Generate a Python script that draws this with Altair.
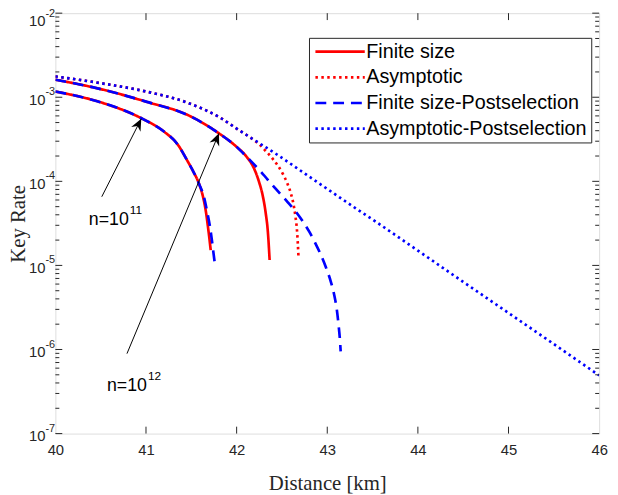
import altair as alt
import pandas as pd

# ---------------- data ----------------
# Finite size, n = 1e12
fs12_x = [40.0, 40.5, 41.0, 41.48, 41.805, 42.0, 42.11, 42.19, 42.244, 42.288, 42.32, 42.345, 42.364]
fs12_y = [1.62e-3, 1.25e-3, 8.87e-4, 6.01e-4, 3.72e-4, 2.57e-4, 1.96e-4, 1.44e-4, 1.01e-4, 6.75e-5, 4.26e-5, 2.48e-5, 1.16e-5]
# Finite size, n = 1e11
fs11_x = [40.0, 40.5, 40.95, 41.198, 41.351, 41.46, 41.525, 41.587, 41.629, 41.659, 41.683, 41.699, 41.714]
fs11_y = [1.17e-3, 8.71e-4, 5.62e-4, 3.91e-4, 2.73e-4, 1.73e-4, 1.29e-4, 9.25e-5, 6.56e-5, 4.50e-5, 2.92e-5, 2.11e-5, 1.52e-5]
# Asymptotic
as_x = [40.0, 40.5, 41.0, 41.48, 41.82, 42.0, 42.186, 42.244, 42.309, 42.404, 42.513, 42.56, 42.598, 42.627, 42.65, 42.666, 42.675, 42.682]
as_y = [1.77e-3, 1.47e-3, 1.17e-3, 8.44e-4, 5.70e-4, 4.24e-4, 3.12e-4, 2.79e-4, 2.37e-4, 1.82e-4, 1.21e-4, 9.44e-5, 7.21e-5, 5.36e-5, 3.75e-5, 2.62e-5, 1.84e-5, 1.30e-5]
# Finite size-Postselection, n = 1e12
fp12_x = [40.0, 40.5, 41.0, 41.48, 41.805, 42.0, 42.11, 42.19, 42.258, 42.342, 42.44, 42.549, 42.658, 42.734, 42.803, 42.865, 42.93, 42.985, 43.039, 43.078, 43.105, 43.126, 43.139, 43.148]
fp12_y = [1.62e-3, 1.25e-3, 8.87e-4, 6.01e-4, 3.72e-4, 2.57e-4, 1.96e-4, 1.60e-4, 1.34e-4, 1.05e-4, 7.96e-5, 5.89e-5, 4.29e-5, 3.29e-5, 2.50e-5, 1.87e-5, 1.33e-5, 9.50e-6, 6.43e-6, 4.40e-6, 3.01e-6, 1.90e-6, 1.34e-6, 9.51e-7]
# Finite size-Postselection, n = 1e11
fp11_x = [40.0, 40.5, 40.95, 41.198, 41.351, 41.46, 41.525, 41.587, 41.639, 41.672, 41.705, 41.727, 41.743, 41.759]
fp11_y = [1.17e-3, 8.71e-4, 5.62e-4, 3.91e-4, 2.73e-4, 1.73e-4, 1.29e-4, 9.25e-5, 6.56e-5, 4.50e-5, 2.92e-5, 2.00e-5, 1.45e-5, 1.06e-5]
# Asymptotic-Postselection
ap_x = [40.0, 40.5, 41.0, 41.48, 41.82, 42.0, 42.22, 42.44, 42.77, 43.31, 43.53, 44.0, 44.5, 45.0, 45.5, 46.0]
ap_y = [1.77e-3, 1.47e-3, 1.17e-3, 8.44e-4, 5.70e-4, 4.24e-4, 2.98e-4, 2.10e-4, 1.20e-4, 4.81e-5, 3.34e-5, 1.50e-5, 6.37e-6, 2.72e-6, 1.16e-6, 4.92e-7]

series_order = ["Finite size", "Asymptotic", "Finite size-Postselection", "Asymptotic-Postselection"]

# annotations
ann_tail_x = [40.512, 40.79]
ann_tail_y = [6.56e-5, 8.93e-7]
ann_tip_x = [40.948, 41.805]
ann_tip_y = [5.55e-4, 3.72e-4]
ann_label_x = [40.81, 41.01]
ann_label_y = [3.43e-5, 3.66e-7]
ann_base = ["n=10", "n=10"]
ann_exp = ["11", "12"]

x_ticks = [40, 41, 42, 43, 44, 45, 46]
y_decades = [1e-7, 1e-6, 1e-5, 1e-4, 1e-3, 1e-2]
y_exp = ["-7", "-6", "-5", "-4", "-3", "-2"]

# ---------------- styling ----------------
W, H = 551, 426
INK = "#262626"
series_colors = ["#FF0000", "#FF0000", "#0000FF", "#0000FF"]
series_dash = [[1, 0], [2.5, 3.5], [11, 7], [2.5, 3.5]]
LW = 2.7

rows = []
for s, c, xs_, ys_ in [
    ("Finite size", "fs12", fs12_x, fs12_y),
    ("Finite size", "fs11", fs11_x, fs11_y),
    ("Asymptotic", "as", as_x, as_y),
    ("Finite size-Postselection", "fp12", fp12_x, fp12_y),
    ("Finite size-Postselection", "fp11", fp11_x, fp11_y),
    ("Asymptotic-Postselection", "ap", ap_x, ap_y),
]:
    for a, b in zip(xs_, ys_):
        rows.append({"series": s, "curve": c, "x": a, "y": b})
df = pd.DataFrame(rows)

xscale = alt.Scale(domain=[40, 46], nice=False, zero=False)
yscale = alt.Scale(type="log", domain=[1e-7, 1e-2], nice=False)

xaxis = alt.Axis(title="Distance [km]", values=x_ticks, format="d", ticks=False, domain=False,
                 grid=False, labelFont="Liberation Sans", labelFontSize=15, labelColor=INK,
                 labelPadding=9, labelFlush=False, titleFont="Liberation Serif", titleFontSize=21,
                 titleFontWeight="normal", titleColor=INK, titlePadding=16)
yaxis = alt.Axis(title="Key Rate", labels=False, ticks=False, domain=False, grid=False,
                 titleFont="Liberation Serif", titleFontSize=21, titleFontWeight="normal",
                 titleColor=INK, titlePadding=27)

# legend line symbol: a 50px horizontal stroke
legend_line = "M-3,0 L17,0"
legend = alt.Legend(title=None, orient="none", legendX=257, legendY=25, symbolType=legend_line,
                    symbolSize=25, symbolStrokeWidth=LW, labelFont="Liberation Sans",
                    labelFontSize=20, labelColor="#000000", labelOffset=34, rowPadding=6,
                    padding=4, strokeColor=INK, fillColor="white", cornerRadius=0,
                    labelLimit=400)

color_enc = alt.Color("series:N", scale=alt.Scale(domain=series_order, range=series_colors), legend=legend)
dash_enc = alt.StrokeDash("series:N", scale=alt.Scale(domain=series_order, range=series_dash), legend=legend)

base = alt.Chart(df)
layers = []
for s in series_order:
    layers.append(
        base.transform_filter(alt.datum.series == s)
        .mark_line(strokeWidth=LW, interpolate="monotone", clip=True)
        .encode(
            x=alt.X("x:Q", scale=xscale, axis=xaxis),
            y=alt.Y("y:Q", scale=yscale, axis=yaxis),
            color=color_enc,
            strokeDash=dash_enc,
            detail="curve:N",
        )
    )

# tick marks (inside, MATLAB style)
minor_vals = [k * d for d in y_decades[:-1] for k in range(2, 10)]
ymaj = alt.Chart(pd.DataFrame({"v": y_decades}))
ymin = alt.Chart(pd.DataFrame({"v": minor_vals}))
xt = alt.Chart(pd.DataFrame({"v": x_ticks[1:-1]}))
ty = alt.Y("v:Q", scale=yscale, axis=yaxis)
tx = alt.X("v:Q", scale=xscale, axis=xaxis)
tick_layers = [
    ymaj.mark_rule(color=INK, strokeWidth=1).encode(x=alt.value(0), x2=alt.value(7), y=ty),
    ymaj.mark_rule(color=INK, strokeWidth=1).encode(x=alt.value(W - 7), x2=alt.value(W), y=ty),
    ymin.mark_rule(color=INK, strokeWidth=1).encode(x=alt.value(0), x2=alt.value(4), y=ty),
    ymin.mark_rule(color=INK, strokeWidth=1).encode(x=alt.value(W - 4), x2=alt.value(W), y=ty),
    xt.mark_rule(color=INK, strokeWidth=1).encode(y=alt.value(H), y2=alt.value(H - 7), x=tx),
    xt.mark_rule(color=INK, strokeWidth=1).encode(y=alt.value(0), y2=alt.value(7), x=tx),
]

# y tick labels 10^n (top label nudged down so it stays inside the page)
ylab_df = pd.DataFrame({"v": y_decades, "b": ["10"] * len(y_decades), "e": y_exp})
ylab_lo = alt.Chart(ylab_df).transform_filter(alt.datum.v < 5e-3)
ylab_hi = alt.Chart(ylab_df).transform_filter(alt.datum.v > 5e-3)
ylabel_layers = [
    ylab_lo.mark_text(align="right", baseline="middle", font="Liberation Sans", fontSize=15,
                      color=INK, dy=3).encode(x=alt.value(-10), y=ty, text="b:N"),
    ylab_lo.mark_text(align="left", baseline="middle", font="Liberation Sans", fontSize=11,
                      color=INK, dy=-5).encode(x=alt.value(-10), y=ty, text="e:N"),
    ylab_hi.mark_text(align="right", baseline="middle", font="Liberation Sans", fontSize=15,
                      color=INK, dy=8).encode(x=alt.value(-10), y=ty, text="b:N"),
    ylab_hi.mark_text(align="left", baseline="middle", font="Liberation Sans", fontSize=11,
                      color=INK, dy=1).encode(x=alt.value(-10), y=ty, text="e:N"),
]

# annotations
ann = alt.Chart(pd.DataFrame({
    "x1": ann_tail_x, "y1": ann_tail_y, "x2": ann_tip_x, "y2": ann_tip_y,
    "lx": ann_label_x, "ly": ann_label_y, "b": ann_base, "e": ann_exp,
    "ang": [27, 22.6],
}))
arrow_path = "M0,0 L0.7,1.6 L0,1.1 L-0.7,1.6 Z"
ann_layers = [
    ann.mark_rule(color="black", strokeWidth=1).encode(
        x=alt.X("x1:Q", scale=xscale, axis=xaxis), y=alt.Y("y1:Q", scale=yscale, axis=yaxis),
        x2="x2:Q", y2="y2:Q"),
    ann.mark_point(shape=arrow_path, filled=True, color="black", opacity=1, size=230).encode(
        x=alt.X("x2:Q", scale=xscale, axis=xaxis), y=alt.Y("y2:Q", scale=yscale, axis=yaxis),
        angle=alt.Angle("ang:Q", scale=None)),
    ann.mark_text(align="right", baseline="middle", font="Liberation Sans", fontSize=18,
                  color="black").encode(
        x=alt.X("lx:Q", scale=xscale, axis=xaxis), y=alt.Y("ly:Q", scale=yscale, axis=yaxis),
        text="b:N"),
    ann.mark_text(align="left", baseline="middle", font="Liberation Sans", fontSize=12,
                  color="black", dx=1, dy=-10).encode(
        x=alt.X("lx:Q", scale=xscale, axis=xaxis), y=alt.Y("ly:Q", scale=yscale, axis=yaxis),
        text="e:N"),
]

chart = alt.layer(*layers, *tick_layers, *ylabel_layers, *ann_layers).properties(
    width=W, height=H, autosize="none",
    padding={"left": 48, "top": 2, "right": 11, "bottom": 59},
).configure_view(stroke=INK, strokeWidth=1, fill="white").configure(background="white")

chart.save("out.html", embed_options={"renderer": "svg", "actions": False})
